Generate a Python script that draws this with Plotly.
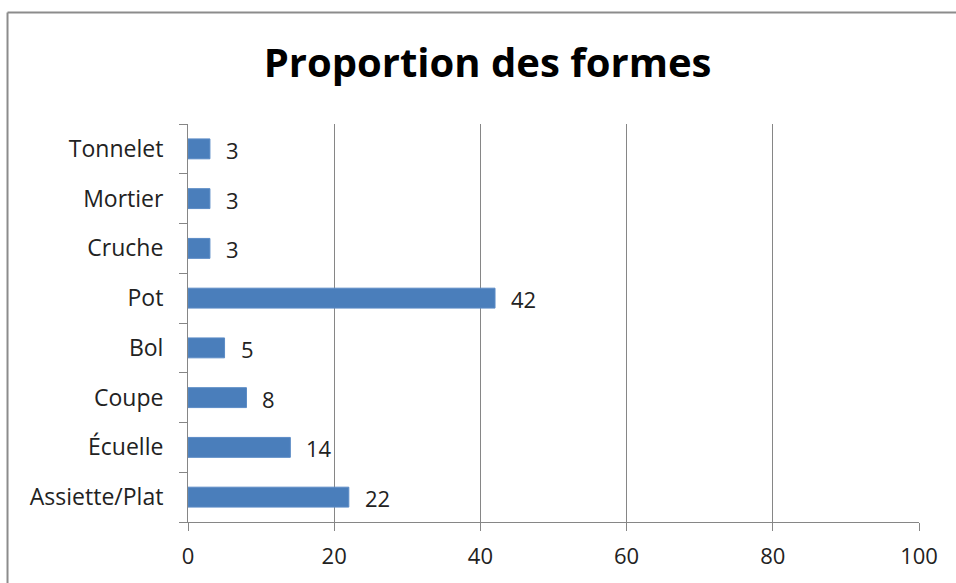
import plotly.graph_objects as go

# Share of each vessel form (bottom to top on the chart)
formes = ["Assiette/Plat", "Écuelle", "Coupe", "Bol", "Pot", "Cruche", "Mortier", "Tonnelet"]
valeurs = [22, 14, 8, 5, 42, 3, 3, 3]
x_ticks = [0, 20, 40, 60, 80, 100]

BAR = "#4A7EBB"
GRID = "#868686"
FONT = "'Open Sans', Lato, sans-serif"

fig = go.Figure(
    go.Bar(
        x=valeurs,
        y=formes,
        orientation="h",
        marker=dict(color=BAR, line=dict(color="#5B8BC6", width=1)),
        hoverinfo="skip",
    )
)

# value labels beside each bar
for f, v in zip(formes, valeurs):
    fig.add_annotation(
        x=v, y=f, text=str(v), showarrow=False,
        xanchor="left", xshift=14, yshift=-1,
        font=dict(family=FONT, size=22, color="#222222"),
    )

# outer chart frame (left and top edges visible)
fig.add_shape(type="line", xref="paper", yref="paper",
              x0=-0.2469, x1=1.2, y0=1.2802, y1=1.2802,
              line=dict(color="#8C8C8C", width=2))
fig.add_shape(type="line", xref="paper", yref="paper",
              x0=-0.2469, x1=-0.2469, y0=-0.2, y1=1.2802,
              line=dict(color="#8C8C8C", width=2))

fig.update_layout(
    width=956, height=583,
    margin=dict(l=188, r=37, t=124, b=61),
    paper_bgcolor="white", plot_bgcolor="white",
    bargap=0.6,
    showlegend=False,
    title=dict(
        text="<b>Proportion des formes</b>",
        x=0.51, xref="container", xanchor="center",
        y=1 - 63 / 583, yanchor="middle",
        font=dict(family=FONT, size=40, color="black"),
    ),
    font=dict(family=FONT, color="black"),
)

fig.update_xaxes(
    range=[0, 100], tickvals=x_ticks, ticktext=[str(t) for t in x_ticks],
    showgrid=True, gridcolor=GRID, gridwidth=1,
    showline=True, linecolor=GRID, linewidth=1,
    ticks="outside", ticklen=8, tickcolor=GRID,
    tickfont=dict(family=FONT, size=22, color="#222222"),
    ticklabelstandoff=7,
    zeroline=False, fixedrange=True,
)
fig.update_yaxes(
    categoryorder="array", categoryarray=formes,
    range=[-0.5, 7.5],
    showgrid=False,
    showline=True, linecolor=GRID, linewidth=1,
    ticks="outside", ticklen=8, tickcolor=GRID, tickson="boundaries",
    tickfont=dict(family=FONT, size=23, color="#222222"),
    ticklabelstandoff=19,
    fixedrange=True,
)

fig.write_html("out.html")
